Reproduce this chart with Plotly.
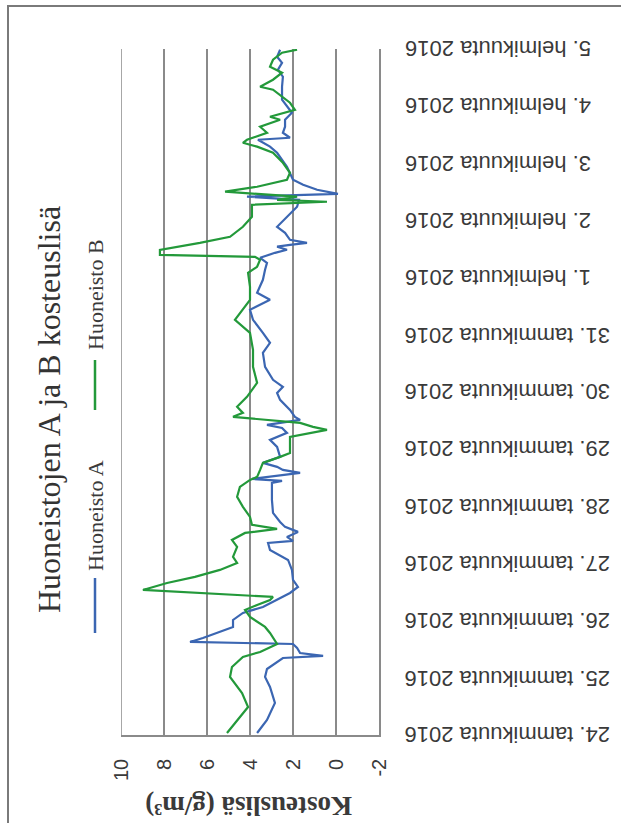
import plotly.graph_objects as go

# Huoneisto A moisture excess (g/m3)
a_time = ["2016-01-24 00:50", "2016-01-24 06:18", "2016-01-24 13:26", "2016-01-24 20:10",
          "2016-01-25 00:22", "2016-01-25 03:43", "2016-01-25 08:20", "2016-01-25 09:11",
          "2016-01-25 10:26", "2016-01-25 12:32", "2016-01-25 14:13", "2016-01-25 15:04",
          "2016-01-25 16:44", "2016-01-25 18:50", "2016-01-25 21:22", "2016-01-26 00:18",
          "2016-01-26 03:14", "2016-01-26 05:46", "2016-01-26 08:41", "2016-01-26 11:38",
          "2016-01-26 14:10", "2016-01-26 17:06", "2016-01-26 21:18", "2016-01-27 01:30",
          "2016-01-27 05:42", "2016-01-27 08:38", "2016-01-27 09:28", "2016-01-27 11:10",
          "2016-01-27 13:16", "2016-01-27 15:22", "2016-01-27 17:28", "2016-01-27 21:14",
          "2016-01-28 02:42", "2016-01-28 09:50", "2016-01-28 10:40", "2016-01-28 11:31",
          "2016-01-28 14:02", "2016-01-28 15:18", "2016-01-28 16:34", "2016-01-28 18:14",
          "2016-01-28 20:46", "2016-01-29 00:58", "2016-01-29 03:54", "2016-01-29 06:50",
          "2016-01-29 08:56", "2016-01-29 10:12", "2016-01-29 12:18", "2016-01-29 13:34",
          "2016-01-29 16:30", "2016-01-29 20:42", "2016-01-29 23:38", "2016-01-30 02:10",
          "2016-01-30 05:06", "2016-01-30 10:34", "2016-01-30 16:26", "2016-01-30 20:38",
          "2016-01-31 00:50", "2016-01-31 06:18", "2016-01-31 10:30", "2016-01-31 14:42",
          "2016-01-31 17:38", "2016-01-31 23:06", "2016-02-01 03:18", "2016-02-01 06:14",
          "2016-02-01 08:20", "2016-02-01 10:26", "2016-02-01 11:42", "2016-02-01 13:00",
          "2016-02-01 13:48", "2016-02-01 14:38", "2016-02-01 15:54", "2016-02-01 18:50",
          "2016-02-01 21:22", "2016-02-02 01:34", "2016-02-02 05:46", "2016-02-02 08:42",
          "2016-02-02 10:00", "2016-02-02 11:12", "2016-02-02 12:54", "2016-02-02 15:00",
          "2016-02-02 17:06", "2016-02-02 22:34", "2016-02-03 01:30", "2016-02-03 04:26",
          "2016-02-03 07:00", "2016-02-03 09:54", "2016-02-03 10:44", "2016-02-03 12:50",
          "2016-02-03 15:22", "2016-02-03 18:18", "2016-02-03 21:14", "2016-02-03 23:46",
          "2016-02-04 02:42", "2016-02-04 08:10", "2016-02-04 12:22", "2016-02-04 15:18",
          "2016-02-04 18:14", "2016-02-04 20:46", "2016-02-04 23:42"]
a_value = [3.67, 3.21, 2.84, 3.07, 3.30, 3.21, 2.47, 0.60, 1.67, 1.81, 2.00, 6.79,
           6.19, 5.53, 4.79, 4.79, 4.33, 3.40, 2.74, 2.14, 1.77, 2.00, 2.05, 2.23,
           3.07, 3.16, 2.00, 2.28, 1.77, 2.37, 2.60, 2.93, 2.98, 2.98, 2.51, 3.91,
           1.67, 2.47, 2.74, 3.40, 2.60, 2.74, 3.07, 2.28, 2.51, 3.21, 1.67, 1.91,
           2.14, 2.60, 2.74, 2.47, 2.93, 3.30, 3.40, 3.07, 3.40, 3.86, 4.00, 3.07,
           3.67, 3.40, 3.30, 3.21, 3.53, 2.84, 2.28, 2.74, 2.14, 1.35, 2.14, 2.37,
           2.74, 2.28, 1.81, 1.72, 4.14, -0.09, 0.88, 1.53, 2.00, 2.28, 2.51, 2.74,
           3.07, 3.63, 2.14, 2.47, 2.37, 2.37, 2.05, 2.28, 2.51, 2.51, 2.47, 2.70,
           2.51, 2.74, 2.60]

# Huoneisto B moisture excess (g/m3)
b_time = ["2016-01-24 00:50", "2016-01-24 06:18", "2016-01-24 11:46", "2016-01-24 17:38",
          "2016-01-25 00:22", "2016-01-25 04:34", "2016-01-25 08:46", "2016-01-25 10:52",
          "2016-01-25 14:13", "2016-01-25 18:50", "2016-01-25 21:22", "2016-01-26 01:34",
          "2016-01-26 04:30", "2016-01-26 06:36", "2016-01-26 08:41", "2016-01-26 09:58",
          "2016-01-26 12:54", "2016-01-26 15:50", "2016-01-26 18:22", "2016-01-26 21:18",
          "2016-01-27 00:14", "2016-01-27 02:46", "2016-01-27 06:58", "2016-01-27 09:54",
          "2016-01-27 12:50", "2016-01-27 14:32", "2016-01-27 16:14", "2016-01-27 19:34",
          "2016-01-27 23:46", "2016-01-28 04:00", "2016-01-28 08:10", "2016-01-28 11:06",
          "2016-01-28 12:22", "2016-01-28 15:18", "2016-01-28 18:14", "2016-01-28 20:46",
          "2016-01-28 22:26", "2016-01-29 05:10", "2016-01-29 08:06", "2016-01-29 09:22",
          "2016-01-29 11:02", "2016-01-29 13:34", "2016-01-29 15:14", "2016-01-29 17:46",
          "2016-01-29 21:58", "2016-01-30 03:50", "2016-01-30 10:34", "2016-01-30 17:40",
          "2016-01-31 00:50", "2016-01-31 06:18", "2016-01-31 10:30", "2016-01-31 14:42",
          "2016-01-31 20:10", "2016-02-01 02:00", "2016-02-01 04:34", "2016-02-01 07:30",
          "2016-02-01 08:46", "2016-02-01 09:36", "2016-02-01 11:42", "2016-02-01 14:38",
          "2016-02-01 17:10", "2016-02-01 21:22", "2016-02-02 01:34", "2016-02-02 06:36",
          "2016-02-02 07:52", "2016-02-02 08:42", "2016-02-02 10:00", "2016-02-02 12:06",
          "2016-02-02 14:10", "2016-02-02 17:06", "2016-02-02 20:02", "2016-02-03 00:14",
          "2016-02-03 04:26", "2016-02-03 07:00", "2016-02-03 08:38", "2016-02-03 09:54",
          "2016-02-03 12:50", "2016-02-03 15:22", "2016-02-03 18:18", "2016-02-03 19:34",
          "2016-02-03 22:30", "2016-02-04 01:26", "2016-02-04 06:54", "2016-02-04 08:10",
          "2016-02-04 11:06", "2016-02-04 14:02", "2016-02-04 16:34", "2016-02-04 19:30",
          "2016-02-04 22:26", "2016-02-04 23:42"]
b_value = [5.07, 4.60, 4.09, 4.37, 4.93, 4.84, 4.33, 3.53, 2.74, 3.07, 3.30, 4.00,
           4.23, 3.67, 3.07, 2.93, 8.98, 7.86, 6.56, 5.40, 4.60, 4.79, 4.60, 4.84,
           4.23, 2.74, 3.91, 4.00, 4.33, 4.60, 4.47, 4.00, 3.67, 3.53, 3.40, 2.60,
           2.14, 2.14, 0.42, 1.07, 1.67, 4.79, 4.33, 4.60, 4.14, 3.67, 3.86, 3.86,
           4.00, 4.70, 4.33, 4.00, 4.00, 4.09, 3.67, 3.53, 3.77, 8.19, 8.19, 6.33,
           4.93, 4.33, 3.91, 3.91, 0.42, 2.74, 1.81, 5.16, 3.67, 2.28, 2.14, 2.47,
           2.93, 3.67, 4.33, 4.14, 3.21, 3.53, 2.60, 3.07, 1.91, 2.14, 2.93, 3.53,
           2.93, 2.51, 3.07, 2.93, 2.51, 1.81]

# Day labels of the time axis
day_dates = ["2016-01-24", "2016-01-25", "2016-01-26", "2016-01-27", "2016-01-28",
             "2016-01-29", "2016-01-30", "2016-01-31", "2016-02-01", "2016-02-02",
             "2016-02-03", "2016-02-04", "2016-02-05"]
day_labels = ["24. tammikuuta 2016", "25. tammikuuta 2016", "26. tammikuuta 2016",
              "27. tammikuuta 2016", "28. tammikuuta 2016", "29. tammikuuta 2016",
              "30. tammikuuta 2016", "31. tammikuuta 2016", "1. helmikuuta 2016",
              "2. helmikuuta 2016", "3. helmikuuta 2016", "4. helmikuuta 2016",
              "5. helmikuuta 2016"]

# Value axis ticks
value_ticks = [10, 8, 6, 4, 2, 0, -2]
value_tick_text = ["10", "8", "6", "4", "2", "0", "-2"]

series_names = ["Huoneisto A", "Huoneisto B"]
title_text = "Huoneistojen A ja B kosteuslisä"
axis_title = "Kosteuslisä (g/m³)"

BLUE = "#3b66b2"
GREEN = "#23993a"
GRID = "#8a8a8a"
TEXT = "#3a3a3a"
SERIF = "Liberation Serif, Times New Roman, serif"
SANS = "Liberation Sans, Arial, sans-serif"

W, H = 621, 823
L, R, T, B = 121, 379, 49, 735   # plot area edges in pixels


def px(x):
    return (x - L) / (R - L)


def py(y):
    return (B - y) / (B - T)


fig = go.Figure()
fig.add_trace(go.Scatter(x=a_value, y=a_time, mode="lines", name=series_names[0],
                         line=dict(color=BLUE, width=2.2), showlegend=False))
fig.add_trace(go.Scatter(x=b_value, y=b_time, mode="lines", name=series_names[1],
                         line=dict(color=GREEN, width=2.2), showlegend=False))

annotations = [
    dict(text=title_text, x=px(49), y=py(410), xref="paper", yref="paper",
         textangle=-90, showarrow=False, xanchor="center", yanchor="middle",
         font=dict(family=SERIF, size=32, color="#333333")),
    dict(text=series_names[0], x=px(95), y=py(516), xref="paper", yref="paper",
         textangle=-90, showarrow=False, xanchor="center", yanchor="middle",
         font=dict(family=SERIF, size=22, color=TEXT)),
    dict(text=series_names[1], x=px(95), y=py(295), xref="paper", yref="paper",
         textangle=-90, showarrow=False, xanchor="center", yanchor="middle",
         font=dict(family=SERIF, size=22, color=TEXT)),
    dict(text="<b>" + axis_title + "</b>", x=px(249), y=py(806), xref="paper",
         yref="paper", textangle=180, showarrow=False, xanchor="center",
         yanchor="middle", font=dict(family=SERIF, size=27, color=TEXT)),
]
for d, lab in zip(day_dates, day_labels):
    annotations.append(dict(text=lab, x=px(403), y=d, xref="paper", yref="y",
                            textangle=180, showarrow=False, xanchor="left",
                            yanchor="middle",
                            font=dict(family=SANS, size=22, color=TEXT)))

shapes = [
    # outer chart frame
    dict(type="rect", xref="paper", yref="paper", x0=px(8), x1=px(700),
         y0=py(900), y1=py(6), line=dict(color="#7a7a7a", width=2)),
    # gridline at the upper end of the value axis
    dict(type="line", xref="x", yref="paper", x0=value_ticks[0], x1=value_ticks[0],
         y0=0, y1=1, layer="below", line=dict(color=GRID, width=1.5)),
    # legend swatches
    dict(type="line", xref="paper", yref="paper", x0=px(95), x1=px(95),
         y0=py(633), y1=py(578), line=dict(color=BLUE, width=2.5)),
    dict(type="line", xref="paper", yref="paper", x0=px(95), x1=px(95),
         y0=py(410), y1=py(360), line=dict(color=GREEN, width=2.5)),
]

fig.update_layout(
    width=W, height=H,
    margin=dict(l=L, r=W - R, t=T, b=H - B, pad=0),
    paper_bgcolor="white", plot_bgcolor="white",
    annotations=annotations, shapes=shapes,
    xaxis=dict(range=[10, -2], tickvals=value_ticks, ticktext=value_tick_text,
               tickangle=-90, tickfont=dict(family=SANS, size=20, color=TEXT),
               ticklabelstandoff=14, showgrid=True, gridcolor=GRID, gridwidth=1.5,
               showline=True, linecolor=GRID, linewidth=1.5, zeroline=False,
               ticks="", fixedrange=True),
    yaxis=dict(type="date", range=["2016-01-24", "2016-02-05"], side="right",
               showgrid=False, showticklabels=False, showline=True,
               linecolor=GRID, linewidth=1.5, zeroline=False, ticks="",
               fixedrange=True),
)

fig.write_html("out.html")
